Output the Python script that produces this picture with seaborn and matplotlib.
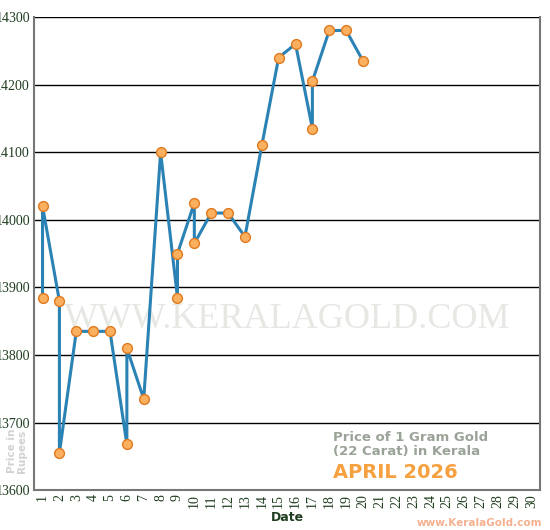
import matplotlib
matplotlib.use("Agg")
import matplotlib.pyplot as plt
import seaborn as sns
import pandas as pd

days = [1, 1, 2, 2, 3, 4, 5, 6, 6, 7, 8, 9, 9, 10, 10, 11, 12, 13, 14, 15, 16, 17, 17, 18, 19, 20]
prices = [13885, 14020, 13880, 13655, 13835, 13835, 13835, 13668, 13810, 13735, 14100,
          13885, 13950, 14025, 13965, 14010, 14010, 13975, 14110, 14240, 14260, 14135,
          14205, 14280, 14280, 14235]
yticks = [13600, 13700, 13800, 13900, 14000, 14100, 14200, 14300]
xticks = list(range(1, 31))

df = pd.DataFrame({"day": days, "price": prices})

sns.set_style("white")
fig = plt.figure(figsize=(5.5, 5.3), dpi=100)
ax = fig.add_axes([0.062, 0.075, 0.92, 0.893])

sns.lineplot(data=df, x="day", y="price", sort=False, estimator=None, ax=ax,
             color="#2b82b4", lw=2.2, zorder=3)
sns.scatterplot(data=df, x="day", y="price", ax=ax, s=50, color="#fbb060",
                edgecolor="#e07a20", linewidth=1, zorder=4)

ax.set_xlim(0.5, 30.5)
ax.set_ylim(13600, 14300)
ax.set_yticks(yticks)
ax.set_xticks(xticks)
ax.set_yticklabels([str(v) for v in yticks], family="Liberation Serif", color="#1f3d1f", fontsize=10)
ax.set_xticklabels([str(v) for v in xticks], family="Liberation Serif", color="#1f3d1f",
                   fontsize=10, rotation=90)
ax.yaxis.grid(True, color="black", lw=1)
ax.set_axisbelow(True)
ax.set_xticks([d + 0.5 for d in range(0, 31)], minor=True)
ax.tick_params(axis="x", which="major", length=0, pad=3)
ax.tick_params(axis="x", which="minor", length=5, color="black", direction="out")
ax.tick_params(axis="y", length=2, color="#555", pad=1)
for s in ["left", "bottom", "right"]:
    ax.spines[s].set_color("#777")
    ax.spines[s].set_linewidth(1.5)
ax.spines["top"].set_visible(False)
ax.set_xlabel("Date", fontsize=9, fontweight="bold", color="#1f3d1f", labelpad=2)
ax.set_ylabel("")

ax.text(0.5, 0.36, "WWW.KERALAGOLD.COM", transform=ax.transAxes, ha="center", va="center",
        fontsize=26, family="Liberation Serif", color="#e6e8e4", zorder=1)
ax.text(0.59, 0.125, "Price of 1 Gram Gold\n(22 Carat) in Kerala", transform=ax.transAxes,
        fontsize=9.5, fontweight="bold", color="#9aa398", linespacing=1.1, va="top")
ax.text(0.59, 0.025, "APRIL 2026", transform=ax.transAxes, fontsize=14, fontweight="bold",
        color="#f7a040")
fig.text(0.012, 0.15, "Price in\nRupees", rotation=90, fontsize=7.5, fontweight="bold",
         color="#d2d2d2", ha="left", va="center", linespacing=1.0)
fig.text(0.985, 0.008, "www.KeralaGold.com", fontsize=7.5, fontweight="bold",
         color="#f5b090", ha="right")

fig.savefig("out.png", dpi=100)
